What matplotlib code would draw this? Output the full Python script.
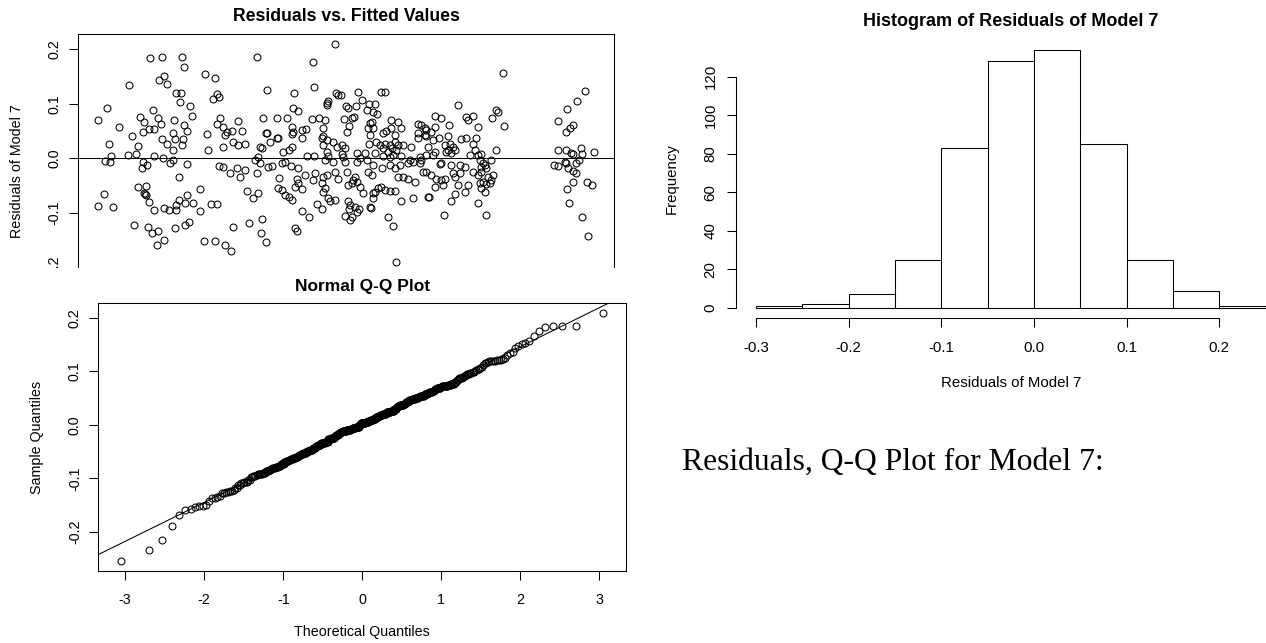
import numpy as np
import matplotlib.pyplot as plt
from matplotlib.patches import Rectangle
from statistics import NormalDist

plt.rcParams['font.family'] = ['Liberation Sans', 'DejaVu Sans']
plt.rcParams['axes.unicode_minus'] = False

# (fitted value, residual) pairs
obs_left = [
    (1.503, 0.184), (1.623, 0.186), (1.817, 0.186), (1.837, 0.167), (1.290, 0.134), (1.593, 0.143),
    (1.643, 0.151), (1.670, 0.137), (2.053, 0.154), (2.150, 0.148), (1.757, 0.120), (1.813, 0.120),
    (2.133, 0.109), (2.173, 0.117), (1.067, 0.092), (1.527, 0.088), (1.800, 0.103), (1.897, 0.095),
    (1.917, 0.077), (0.977, 0.070), (1.400, 0.076), (1.440, 0.066), (1.577, 0.073), (1.607, 0.063),
    (1.190, 0.057), (1.433, 0.049), (1.493, 0.053), (1.540, 0.054), (1.743, 0.070), (1.843, 0.061),
    (1.867, 0.050), (2.167, 0.063), (1.727, 0.047), (1.317, 0.040), (1.083, 0.027), (1.373, 0.023),
    (1.620, 0.035), (1.673, 0.026), (1.750, 0.035), (1.817, 0.024), (1.833, 0.035), (1.733, 0.016),
    (2.073, 0.045), (2.083, 0.016), (1.110, 0.004), (1.277, 0.006), (1.357, 0.008), (1.543, 0.004),
    (1.633, 0.001), (1.050, -0.005), (1.093, -0.007), (1.427, -0.007), (1.470, -0.012), (1.417, -0.018),
    (1.700, -0.009), (1.727, -0.004), (1.867, -0.010), (2.190, -0.014), (1.793, -0.034), (1.033, -0.065),
    (1.373, -0.052), (1.457, -0.050), (1.443, -0.063), (1.450, -0.065), (1.460, -0.068), (1.490, -0.080),
    (1.537, -0.095), (0.973, -0.087), (1.127, -0.089), (1.643, -0.091), (1.690, -0.094), (1.757, -0.095),
    (1.760, -0.086), (1.787, -0.076), (1.847, -0.082), (1.873, -0.068), (1.927, -0.081), (1.997, -0.056),
    (2.003, -0.097), (2.113, -0.084), (2.173, -0.084), (1.337, -0.123), (1.483, -0.126), (1.517, -0.137),
    (1.583, -0.134), (1.637, -0.150), (1.567, -0.158), (1.750, -0.128), (1.850, -0.122), (1.893, -0.117),
    (2.043, -0.152), (2.150, -0.152),
]

obs_mid_upper = [
    (2.567, 0.186), (3.350, 0.209), (3.133, 0.176), (2.193, 0.112), (2.667, 0.125), (2.940, 0.120),
    (3.143, 0.130), (2.927, 0.092), (2.983, 0.087), (3.360, 0.119), (3.383, 0.116), (3.410, 0.116),
    (3.267, 0.101), (3.283, 0.105), (3.273, 0.098), (3.577, 0.122), (3.623, 0.107), (3.693, 0.099),
    (3.750, 0.099), (3.667, 0.088), (3.727, 0.085), (3.777, 0.081), (3.817, 0.122), (3.857, 0.122),
    (3.460, 0.096), (3.483, 0.093), (3.557, 0.095), (3.440, 0.072), (3.517, 0.073), (3.540, 0.076),
    (3.493, 0.059), (3.467, 0.049), (2.633, 0.074), (2.767, 0.073), (2.873, 0.073), (2.377, 0.069),
    (2.417, 0.050), (2.200, 0.073), (2.233, 0.058), (2.267, 0.049), (2.317, 0.050), (2.660, 0.047),
    (2.917, 0.058), (2.933, 0.049), (3.017, 0.052), (3.060, 0.053), (3.117, 0.072), (3.193, 0.073),
    (3.250, 0.071), (3.227, 0.056), (3.700, 0.064), (3.723, 0.067), (3.677, 0.055), (3.733, 0.055),
    (3.917, 0.070), (3.983, 0.067), (4.017, 0.055), (3.917, 0.055), (3.867, 0.050), (4.183, 0.062),
    (4.217, 0.061), (4.250, 0.055), (5.033, 0.157), (4.583, 0.098), (4.350, 0.077), (4.417, 0.074),
    (4.660, 0.075), (4.683, 0.070), (4.733, 0.078), (4.783, 0.058), (4.490, 0.061), (4.967, 0.088),
    (4.983, 0.085), (4.927, 0.074), (5.043, 0.059), (4.350, 0.058), (4.267, 0.051), (4.317, 0.049),
]

obs_mid_lower = [
    (2.250, 0.043), (2.667, 0.046), (2.767, 0.038), (2.783, 0.037), (2.917, 0.045), (3.017, 0.037),
    (3.233, 0.040), (3.700, 0.043), (3.833, 0.046), (3.950, 0.043), (4.183, 0.046), (4.250, 0.043),
    (2.233, 0.021), (2.327, 0.029), (2.383, 0.024), (2.450, 0.027), (2.600, 0.021), (2.617, 0.018),
    (2.700, 0.030), (2.917, 0.021), (2.893, 0.015), (2.833, 0.012), (3.217, 0.037), (3.267, 0.034),
    (3.333, 0.030), (3.233, 0.024), (3.367, 0.021), (3.450, 0.018), (3.417, 0.024), (3.567, 0.009),
    (3.650, 0.009), (3.693, 0.027), (3.767, 0.030), (3.800, 0.024), (3.850, 0.027), (3.900, 0.024),
    (3.950, 0.030), (3.983, 0.024), (4.033, 0.024), (4.117, 0.021), (3.833, 0.018), (3.883, 0.012),
    (3.927, 0.018), (3.967, 0.015), (4.183, 0.037), (4.267, 0.040), (2.550, -0.003), (2.583, 0.003),
    (2.600, -0.009), (2.850, -0.006), (2.817, -0.009), (3.067, 0.004), (3.140, 0.004), (3.267, 0.012),
    (3.283, 0.004), (3.250, -0.003), (3.333, -0.006), (3.417, 0.008), (3.433, 0.003), (3.450, -0.006),
    (3.600, 0.000), (3.667, -0.003), (3.750, 0.009), (3.833, 0.004), (3.900, 0.003), (3.933, 0.006),
    (4.017, 0.004), (4.100, -0.003), (4.200, 0.003), (4.267, 0.006), (2.233, -0.016), (2.300, -0.026),
    (2.367, -0.018), (2.450, -0.021), (2.400, -0.034), (2.567, -0.027), (2.683, -0.015), (2.717, -0.014),
    (2.910, -0.014), (2.983, -0.018), (3.050, -0.031), (3.150, -0.027), (3.267, -0.031), (3.350, -0.025),
    (3.467, -0.025), (3.567, -0.006), (3.683, -0.025), (3.733, -0.012), (3.717, -0.031), (3.823, -0.018),
    (3.900, -0.012), (3.950, -0.018), (4.000, -0.012), (4.083, -0.009), (4.133, -0.006), (4.200, -0.009),
    (3.983, -0.034), (4.033, -0.034), (4.083, -0.037), (4.150, -0.043), (4.233, -0.025), (4.267, -0.025),
    (2.793, -0.036), (2.967, -0.037), (2.983, -0.046), (2.950, -0.052), (3.017, -0.057), (3.127, -0.040),
    (3.233, -0.034), (3.217, -0.046), (3.250, -0.055), (3.233, -0.061), (3.383, -0.037), (3.483, -0.049),
    (3.517, -0.046), (3.533, -0.040), (3.550, -0.034), (3.567, -0.043), (3.600, -0.052), (3.633, -0.064),
    (3.733, -0.064), (3.757, -0.061), (3.783, -0.055), (3.817, -0.052), (3.850, -0.058), (3.900, -0.059),
    (3.950, -0.059), (4.017, -0.079), (4.133, -0.073), (4.283, -0.070), (2.467, -0.060), (2.577, -0.063),
    (2.533, -0.073), (2.783, -0.055), (2.817, -0.058), (2.850, -0.067), (2.893, -0.070), (2.917, -0.076),
    (3.277, -0.073), (3.300, -0.079), (3.350, -0.076), (3.167, -0.084), (3.217, -0.092), (3.483, -0.079),
    (3.500, -0.086), (3.493, -0.092), (3.550, -0.089), (3.593, -0.092), (3.567, -0.098), (3.517, -0.107),
    (3.450, -0.106), (3.500, -0.113), (3.700, -0.090), (3.707, -0.091), (3.733, -0.073), (3.883, -0.108),
    (3.933, -0.124), (3.017, -0.096), (3.090, -0.108), (2.493, -0.118), (2.623, -0.112), (2.607, -0.136),
    (2.660, -0.153), (2.327, -0.126), (2.950, -0.127), (2.973, -0.133), (2.250, -0.159), (2.307, -0.169),
    (3.967, -0.189),
]

obs_mid_right = [
    (4.333, 0.034), (4.393, 0.037), (4.483, 0.041), (4.617, 0.035), (4.667, 0.037), (4.767, 0.038),
    (4.450, 0.024), (4.500, 0.027), (4.533, 0.021), (4.483, 0.016), (4.550, 0.015), (4.467, 0.012),
    (4.517, 0.009), (4.283, 0.021), (4.350, 0.012), (4.333, 0.006), (4.217, -0.003), (4.733, 0.027),
    (4.750, 0.015), (4.700, 0.006), (4.783, 0.006), (4.817, 0.008), (4.967, 0.016), (4.917, -0.003),
    (4.800, -0.003), (4.833, -0.009), (4.850, -0.012), (4.817, -0.015), (4.867, -0.018), (4.417, -0.008),
    (4.400, -0.010), (4.517, -0.012), (4.600, -0.012), (4.650, -0.015), (4.317, -0.031), (4.367, -0.037),
    (4.417, -0.040), (4.450, -0.038), (4.533, -0.027), (4.600, -0.027), (4.550, -0.034), (4.733, -0.025),
    (4.783, -0.031), (4.817, -0.025), (4.883, -0.034), (4.917, -0.040), (4.933, -0.031), (4.350, -0.052),
    (4.433, -0.049), (4.583, -0.049), (4.650, -0.061), (4.683, -0.049), (4.800, -0.045), (4.833, -0.043),
    (4.867, -0.047), (4.900, -0.046), (4.817, -0.055), (4.850, -0.061), (4.293, -0.070), (4.517, -0.078),
    (4.550, -0.065), (4.783, -0.081), (4.443, -0.103), (4.867, -0.103),
]

obs_right = [
    (5.583, 0.069), (5.673, 0.090), (5.773, 0.105), (5.860, 0.124), (5.667, 0.049), (5.707, 0.055),
    (5.740, 0.061), (5.583, 0.015), (5.667, 0.015), (5.717, 0.010), (5.733, 0.008), (5.817, 0.018),
    (5.827, 0.008), (5.950, 0.012), (5.543, -0.012), (5.590, -0.014), (5.657, -0.006), (5.667, -0.008),
    (5.683, -0.017), (5.767, -0.009), (5.800, -0.003), (5.740, -0.023), (5.767, -0.027), (5.733, -0.043),
    (5.677, -0.057), (5.700, -0.081), (5.873, -0.043), (5.923, -0.048), (5.823, -0.107), (5.890, -0.142),
]

# lowest residuals, only visible in the Q-Q plot (cropped off the residual plot)
obs_low_tail = [(1.800, -0.254), (3.000, -0.233), (3.900, -0.2145)]

# histogram
hist_breaks = [-0.30, -0.25, -0.20, -0.15, -0.10, -0.05, 0.00, 0.05, 0.10, 0.15, 0.20, 0.25]
hist_counts = [1, 2, 7, 25, 83, 128, 134, 85, 25, 9, 1]

obs = np.array(obs_left + obs_mid_upper + obs_mid_lower + obs_mid_right + obs_right + obs_low_tail)
fitted = obs[:, 0]
resid = obs[:, 1]

W, H = 1266, 643
fig = plt.figure(figsize=(W / 100, H / 100), dpi=100)


def rect(left, top, right, bottom):
    return [left / W, 1 - bottom / H, (right - left) / W, (bottom - top) / H]


def put(x, y, s, **kw):
    fig.text(x / W, 1 - y / H, s, **kw)


def rlim(v):
    lo, hi = np.min(v), np.max(v)
    pad = 0.04 * (hi - lo)
    return lo - pad, hi + pad


def upright_y_labels(ax):
    for lab in ax.get_yticklabels():
        lab.set_rotation(90)
        lab.set_va('center')
        lab.set_ha('right')
        lab.set_rotation_mode('default')


tick_kw = dict(direction='out', length=6.8, width=0.75, color='black')
lw = 0.75

# ---- residuals vs fitted ----
ax1 = fig.add_axes(rect(77.7, 34.1, 614.3, 307.1))
ax1.plot(fitted, resid, 'o', ms=5, mfc='none', mec='black', mew=0.75)
ax1.axhline(0, color='black', lw=lw)
ax1.set_xlim(rlim(fitted))
ax1.set_ylim(rlim(resid))
ax1.set_xticks([])
ax1.set_yticks([-0.2, -0.1, 0.0, 0.1, 0.2])
ax1.set_yticklabels(['-0.2', '-0.1', '0.0', '0.1', '0.2'])
ax1.tick_params(axis='y', labelsize=10.3, pad=5, **tick_kw)
upright_y_labels(ax1)
for s in ax1.spines.values():
    s.set_linewidth(lw)
put(346, 16.7, 'Residuals vs. Fitted Values', ha='center', va='center', fontsize=12.7, fontweight='bold')
put(16.7, 170.6, 'Residuals of Model 7', ha='center', va='center', rotation=90, fontsize=10.3)

# page cover: the Q-Q image sits over the bottom of the residual plot
fig.add_artist(Rectangle((0, 0), 650 / W, 1 - 268 / H, transform=fig.transFigure,
                         facecolor='white', edgecolor='none', zorder=1))

# ---- normal Q-Q ----
r_sorted = np.sort(resid)
n = len(r_sorted)
nd = NormalDist()
theo = np.array([nd.inv_cdf((i + 0.5) / n) for i in range(n)])
q1, q3 = np.quantile(resid, [0.25, 0.75])
z1, z3 = nd.inv_cdf(0.25), nd.inv_cdf(0.75)
slope = (q3 - q1) / (z3 - z1)
icpt = q1 - slope * z1

ax2 = fig.add_axes(rect(98.3, 303.3, 626.3, 570.7))
ax2.set_zorder(2)
ax2.plot(theo, r_sorted, 'o', ms=5, mfc='none', mec='black', mew=0.75)
ax2.axline((0, icpt), slope=slope, color='black', lw=lw)
ax2.set_xlim(-3.34, 3.34)
ax2.set_ylim(rlim(resid))
ax2.set_xticks([-3, -2, -1, 0, 1, 2, 3])
ax2.set_yticks([-0.2, -0.1, 0.0, 0.1, 0.2])
ax2.set_yticklabels(['-0.2', '-0.1', '0.0', '0.1', '0.2'])
ax2.tick_params(axis='y', labelsize=10.3, pad=5, **tick_kw)
ax2.tick_params(axis='x', labelsize=10.3, pad=9.4, **tick_kw)
upright_y_labels(ax2)
for s in ax2.spines.values():
    s.set_linewidth(lw)
put(362.3, 286.7, 'Normal Q-Q Plot', ha='center', va='center', fontsize=12.5, fontweight='bold')
put(36.7, 437, 'Sample Quantiles', ha='center', va='center', rotation=90, fontsize=10.3)
put(362.3, 631.7, 'Theoretical Quantiles', ha='center', va='center', fontsize=10.3)

# ---- histogram ----
ax3 = fig.add_axes(rect(735.8, 39.4, 1285.9, 318.3))
ax3.bar(hist_breaks[:-1], hist_counts, width=np.diff(hist_breaks), align='edge',
        facecolor='white', edgecolor='black', lw=lw)
ax3.set_xlim(rlim(hist_breaks))
ax3.set_ylim(rlim([0] + hist_counts))
ax3.spines['top'].set_visible(False)
ax3.spines['right'].set_visible(False)
ax3.spines['left'].set_bounds(0, 120)
ax3.spines['bottom'].set_bounds(-0.3, 0.2)
for s in ax3.spines.values():
    s.set_linewidth(lw)
ax3.set_xticks([-0.3, -0.2, -0.1, 0.0, 0.1, 0.2])
ax3.set_xticklabels(['-0.3', '-0.2', '-0.1', '0.0', '0.1', '0.2'])
ax3.set_yticks([0, 20, 40, 60, 80, 100, 120])
ax3.set_yticklabels(['0', '20', '40', '60', '80', '100', '120'])
ax3.tick_params(axis='y', labelsize=10.8, pad=6.3, **tick_kw)
ax3.tick_params(axis='x', labelsize=10.8, pad=9.4, **tick_kw)
upright_y_labels(ax3)
put(1010.8, 21.7, 'Histogram of Residuals of Model 7', ha='center', va='center', fontsize=13, fontweight='bold')
put(672, 178.9, 'Frequency', ha='center', va='center', rotation=90, fontsize=10.8)
put(1010.8, 383, 'Residuals of Model 7', ha='center', va='center', fontsize=10.8)

put(681.7, 470, 'Residuals, Q-Q Plot for Model 7:', ha='left', va='baseline',
    fontsize=22.8, family=['Liberation Serif', 'DejaVu Serif'])

fig.savefig('out.png', dpi=100)
